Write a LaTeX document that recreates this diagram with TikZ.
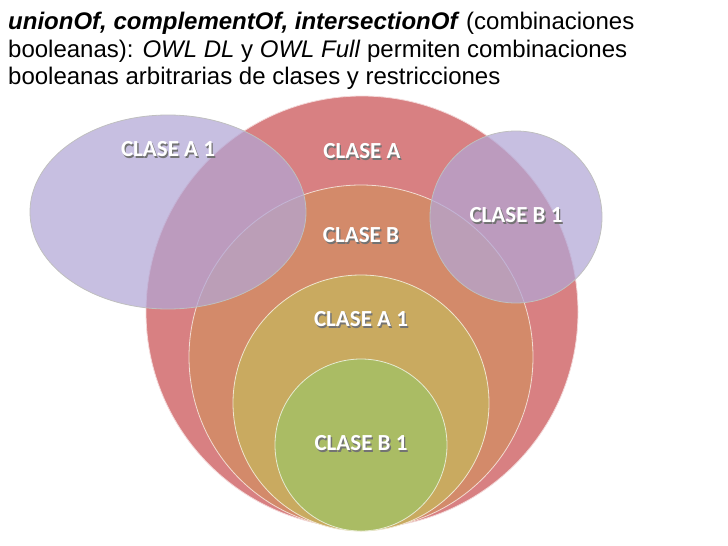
\documentclass[tikz,border=0pt]{standalone}
\usepackage{fontspec}
\setmainfont{Liberation Sans}
\newfontfamily\calibfont{Carlito}
\usetikzlibrary{shapes.geometric}

\definecolor{claseA}{RGB}{216,128,130}
\definecolor{claseB}{RGB}{211,138,106}
\definecolor{claseAi}{RGB}{201,170,96}
\definecolor{claseBi}{RGB}{170,188,100}
\definecolor{lila}{RGB}{178,166,214}

\newcommand{\shadowtxt}[1]{\leavevmode\rlap{\kern1.3pt\raisebox{-1.6pt}{\textcolor{black!55}{#1}}}#1}

\tikzset{
    set/.style={circle,draw=white!70!#1,line width=0.8pt,fill=#1,inner sep=0pt},
    lilaset/.style={draw=black!25,line width=0.8pt,fill=lila,fill opacity=0.72,inner sep=0pt},
    lbl/.style={font=\calibfont\bfseries\fontsize{23}{27}\selectfont,text=white}
}

\begin{document}
\begin{tikzpicture}[x=1pt,y=-1pt]
            \useasboundingbox (0,0) rectangle (728,546);

            \coordinate (A) at (362,312);
            \coordinate (B) at (361,357);
            \coordinate (A1) at (361,403);
            \coordinate (B1) at (361,445);
            \coordinate (L) at (168,212);
            \coordinate (R) at (516,217);

            % nested circles
            \node[set=claseA,minimum size=432pt] (cA) at (A) {};
            \node[set=claseB,minimum size=344pt] (cB) at (B) {};
            \node[set=claseAi,minimum size=256pt] (cAi) at (A1) {};
            \node[set=claseBi,minimum size=172pt] (cBi) at (B1) {};

            % overlapping sets
            \node[lilaset,ellipse,minimum width=276pt,minimum height=194pt] (eL) at (L) {};
            \node[lilaset,circle,minimum size=172pt] (cR) at (R) {};

            \foreach \x/\y/\nm/\txt in {
                362/152/tA/{CLASE A},361/236/tB/{CLASE B},361/320/tAi/{CLASE A 1},
                361/444/tBi/{CLASE B 1},168/150/tL/{CLASE A 1},516/216/tR/{CLASE B 1}
            }{
                \node[lbl] (\nm) at (\x,\y) {\shadowtxt{\txt}};
            }

            \node[anchor=north west,align=left,font=\fontsize{24}{27.5}\selectfont,inner sep=0pt] (title) at (8,12)
                {\textbf{\textit{unionOf, complementOf, intersectionOf}} (combinaciones\\
                 booleanas): \textit{OWL DL} y \textit{OWL Full} permiten combinaciones\\
                 booleanas arbitrarias de clases y restricciones};
        \end{tikzpicture}
\end{document}
